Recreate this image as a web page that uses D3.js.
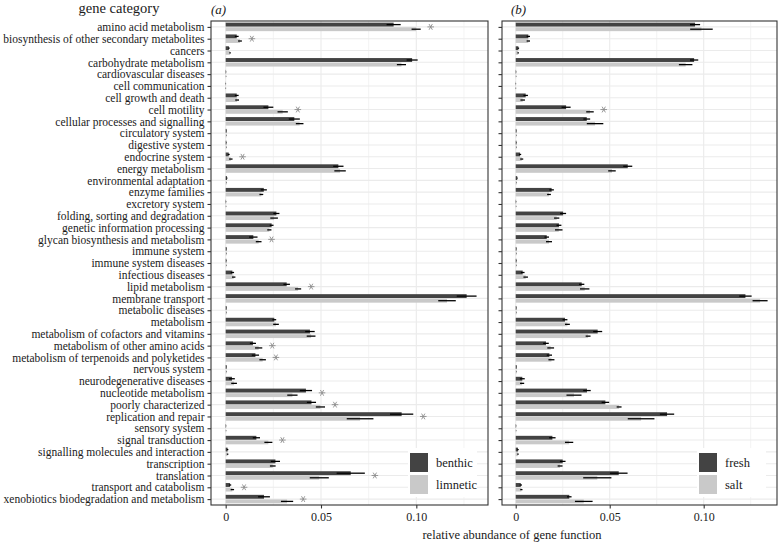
<!DOCTYPE html>
<html>
<head>
<meta charset="utf-8">
<script src="https://cdn.jsdelivr.net/npm/d3@7"></script>
<style>
  body { margin: 0; background: #fff; }
  text { font-family: "Liberation Serif", serif; fill: #1a1a1a; }
</style>
</head>
<body>
<div id="chart"></div>
<script>
const categories = [
  'amino acid metabolism', 'biosynthesis of other secondary metabolites', 'cancers',
  'carbohydrate metabolism', 'cardiovascular diseases', 'cell communication',
  'cell growth and death', 'cell motility', 'cellular processes and signalling',
  'circulatory system', 'digestive system', 'endocrine system', 'energy metabolism',
  'environmental adaptation', 'enzyme families', 'excretory system',
  'folding, sorting and degradation', 'genetic information processing',
  'glycan biosynthesis and metabolism', 'immune system', 'immune system diseases',
  'infectious diseases', 'lipid metabolism', 'membrane transport', 'metabolic diseases',
  'metabolism', 'metabolism of cofactors and vitamins', 'metabolism of other amino acids',
  'metabolism of terpenoids and polyketides', 'nervous system', 'neurodegenerative diseases',
  'nucleotide metabolism', 'poorly characterized', 'replication and repair', 'sensory system',
  'signal transduction', 'signalling molecules and interaction', 'transcription',
  'translation', 'transport and catabolism', 'xenobiotics biodegradation and metabolism'
];

// panel (a)
const benthicMean = [0.0881, 0.0058, 0.0017, 0.0978, 0.0002, 0.0001, 0.0058, 0.0224, 0.0360, 0.0005,
  0.0004, 0.0016, 0.0591, 0.0007, 0.0200, 0.0002, 0.0266, 0.0241, 0.0145, 0.0005, 0.0004,
  0.0035, 0.0320, 0.1264, 0.0005, 0.0255, 0.0442, 0.0143, 0.0156, 0.0005, 0.0033, 0.0421,
  0.0450, 0.0923, 0.0002, 0.0161, 0.0010, 0.0261, 0.0656, 0.0023, 0.0201];
const benthicSe = [0.0037, 0.0010, 0.0004, 0.0029, 0.0001, 0.0001, 0.0010, 0.0026, 0.0029, 0.0001,
  0.0001, 0.0005, 0.0027, 0.0002, 0.0016, 0.0001, 0.0016, 0.0010, 0.0022, 0.0001, 0.0001,
  0.0009, 0.0017, 0.0052, 0.0001, 0.0010, 0.0025, 0.0016, 0.0019, 0.0001, 0.0015, 0.0032,
  0.0024, 0.0061, 0.0001, 0.0019, 0.0004, 0.0024, 0.0074, 0.0006, 0.0031];
const limneticMean = [0.0999, 0.0075, 0.0023, 0.0922, 0.0002, 0.0001, 0.0060, 0.0299, 0.0388, 0.0005,
  0.0004, 0.0027, 0.0600, 0.0005, 0.0187, 0.0002, 0.0254, 0.0229, 0.0173, 0.0005, 0.0004,
  0.0042, 0.0380, 0.1161, 0.0005, 0.0264, 0.0448, 0.0173, 0.0194, 0.0005, 0.0044, 0.0350,
  0.0497, 0.0705, 0.0002, 0.0224, 0.0010, 0.0247, 0.0491, 0.0035, 0.0322];
const limneticSe = [0.0024, 0.0010, 0.0004, 0.0024, 0.0001, 0.0001, 0.0010, 0.0027, 0.0020, 0.0001,
  0.0001, 0.0009, 0.0030, 0.0001, 0.0010, 0.0001, 0.0020, 0.0011, 0.0015, 0.0001, 0.0001,
  0.0009, 0.0016, 0.0046, 0.0001, 0.0015, 0.0023, 0.0019, 0.0017, 0.0001, 0.0015, 0.0027,
  0.0024, 0.0070, 0.0001, 0.0021, 0.0004, 0.0015, 0.0050, 0.0009, 0.0032];
const starsA = ['amino acid metabolism', 'biosynthesis of other secondary metabolites', 'cell motility',
  'endocrine system', 'glycan biosynthesis and metabolism', 'lipid metabolism',
  'metabolism of other amino acids', 'metabolism of terpenoids and polyketides',
  'nucleotide metabolism', 'poorly characterized', 'replication and repair',
  'signal transduction', 'translation', 'transport and catabolism',
  'xenobiotics biodegradation and metabolism'];

// panel (b)
const freshMean = [0.0954, 0.0067, 0.0014, 0.0949, 0.0002, 0.0001, 0.0053, 0.0268, 0.0378, 0.0004,
  0.0004, 0.0023, 0.0596, 0.0008, 0.0191, 0.0002, 0.0252, 0.0230, 0.0165, 0.0004, 0.0004,
  0.0037, 0.0351, 0.1222, 0.0004, 0.0262, 0.0436, 0.0161, 0.0179, 0.0005, 0.0035, 0.0379,
  0.0477, 0.0805, 0.0002, 0.0195, 0.0012, 0.0250, 0.0548, 0.0027, 0.0285];
const freshSe = [0.0027, 0.0009, 0.0004, 0.0022, 0.0001, 0.0001, 0.0012, 0.0024, 0.0018, 0.0001,
  0.0001, 0.0006, 0.0024, 0.0002, 0.0012, 0.0001, 0.0016, 0.0013, 0.0012, 0.0001, 0.0001,
  0.0010, 0.0014, 0.0033, 0.0001, 0.0013, 0.0024, 0.0015, 0.0014, 0.0001, 0.0013, 0.0020,
  0.0020, 0.0038, 0.0001, 0.0017, 0.0004, 0.0015, 0.0047, 0.0006, 0.0012];
const saltMean = [0.0988, 0.0067, 0.0013, 0.0904, 0.0002, 0.0001, 0.0037, 0.0395, 0.0422, 0.0004,
  0.0004, 0.0032, 0.0512, 0.0005, 0.0177, 0.0002, 0.0218, 0.0229, 0.0177, 0.0004, 0.0004,
  0.0053, 0.0367, 0.1300, 0.0004, 0.0275, 0.0385, 0.0186, 0.0190, 0.0005, 0.0034, 0.0310,
  0.0550, 0.0667, 0.0002, 0.0284, 0.0012, 0.0236, 0.0434, 0.0030, 0.0362];
const saltSe = [0.0060, 0.0009, 0.0004, 0.0036, 0.0001, 0.0001, 0.0012, 0.0020, 0.0044, 0.0001,
  0.0001, 0.0008, 0.0020, 0.0001, 0.0010, 0.0001, 0.0014, 0.0020, 0.0016, 0.0001, 0.0001,
  0.0012, 0.0025, 0.0040, 0.0001, 0.0013, 0.0013, 0.0018, 0.0016, 0.0001, 0.0011, 0.0040,
  0.0013, 0.0071, 0.0001, 0.0022, 0.0004, 0.0013, 0.0075, 0.0006, 0.0047];
const starsB = ['cell motility'];

const xTicks = [0, 0.05, 0.10];
const xMinor = [0.025, 0.075, 0.125];

const width = 779;
const height = 542;
const panelTop = 21;
const panelBottom = 505;
const darkFill = '#434343';
const lightFill = '#c9c9c9';
const gridCol = '#ebebeb';

const svg = d3.select('#chart')
    .append('svg')
    .attr('width', width)
    .attr('height', height);

svg.append('rect').attr('width', width).attr('height', height).attr('fill', '#fff');

const yScale = d3.scalePoint()
    .domain(categories)
    .range([panelTop, panelBottom])
    .padding(0.5);
const step = yScale.step();
const star = d3.symbol(d3.symbolAsterisk, 30);

function Panel(opt) {
    const xScale = d3.scaleLinear().domain(opt.domain).range([opt.left, opt.right]);
    const g = svg.append('g');

    // grid
    g.selectAll('.minor').data(xMinor).enter().append('line')
        .attr('x1', d => xScale(d)).attr('x2', d => xScale(d))
        .attr('y1', panelTop).attr('y2', panelBottom)
        .attr('stroke', gridCol).attr('stroke-width', 0.6);
    g.selectAll('.major').data(xTicks).enter().append('line')
        .attr('x1', d => xScale(d)).attr('x2', d => xScale(d))
        .attr('y1', panelTop).attr('y2', panelBottom)
        .attr('stroke', gridCol).attr('stroke-width', 1.1);
    g.selectAll('.hgrid').data(categories).enter().append('line')
        .attr('x1', opt.left).attr('x2', opt.right)
        .attr('y1', d => yScale(d)).attr('y2', d => yScale(d))
        .attr('stroke', gridCol).attr('stroke-width', 1.1);

    const series = [
        {mean: opt.m1, se: opt.s1, fill: darkFill, off: -0.36},
        {mean: opt.m2, se: opt.s2, fill: lightFill, off: 0.03}
    ];
    series.forEach(s => {
        const bh = 0.33 * step;
        g.selectAll(null).data(categories).enter().append('rect')
            .attr('x', xScale(0))
            .attr('y', d => yScale(d) + s.off * step)
            .attr('width', (d, i) => xScale(s.mean[i]) - xScale(0))
            .attr('height', bh)
            .attr('fill', s.fill);
        g.selectAll(null).data(categories).enter().append('line')
            .attr('x1', (d, i) => xScale(s.mean[i] - s.se[i]))
            .attr('x2', (d, i) => xScale(s.mean[i] + s.se[i]))
            .attr('y1', d => yScale(d) + s.off * step + bh / 2)
            .attr('y2', d => yScale(d) + s.off * step + bh / 2)
            .attr('stroke', '#000').attr('stroke-width', 1.3);
    });

    // significance stars
    g.selectAll(null).data(opt.stars).enter().append('path')
        .attr('transform', d => {
            const i = categories.indexOf(d);
            const x = xScale(Math.max(opt.m1[i] + opt.s1[i], opt.m2[i] + opt.s2[i])) + 10;
            return `translate(${x},${yScale(d)}) rotate(90)`;
        })
        .attr('d', star)
        .attr('fill', 'none')
        .attr('stroke', '#8c8c8c')
        .attr('stroke-width', 0.9);

    // legend
    const lg = g.append('g').attr('transform', `translate(${opt.right - 80},448)`);
    lg.append('rect').attr('width', 69).attr('height', 49).attr('fill', '#fff');
    opt.keys.forEach((k, i) => {
        lg.append('rect').attr('x', 2).attr('y', 5 + i * 22).attr('width', 18).attr('height', 19)
            .attr('fill', i === 0 ? darkFill : lightFill);
        lg.append('text').attr('x', 28).attr('y', 18.5 + i * 22)
            .style('font-size', '12.5px').text(k);
    });

    // border
    g.append('rect')
        .attr('x', opt.left).attr('y', panelTop)
        .attr('width', opt.right - opt.left).attr('height', panelBottom - panelTop)
        .attr('fill', 'none').attr('stroke', '#333').attr('stroke-width', 1.1);

    // x axis
    const xAxis = svg.append('g')
        .attr('transform', `translate(0,${panelBottom})`)
        .call(d3.axisBottom(xScale).tickValues(xTicks).tickSize(3.5).tickPadding(4)
            .tickFormat(d => d === 0 ? '0' : d3.format('.2f')(d)));
    xAxis.select('.domain').remove();
    xAxis.selectAll('line').attr('stroke', '#333').attr('stroke-width', 1.1);
    xAxis.selectAll('text').style('font-size', '12px').style('font-family', '"Liberation Serif", serif')
        .attr('fill', '#333');

    // y ticks
    const yAxis = svg.append('g')
        .attr('transform', `translate(${opt.left},0)`)
        .call(d3.axisLeft(yScale).tickSize(3.5).tickPadding(3).tickFormat(opt.showLabels ? d => d : ''));
    yAxis.select('.domain').remove();
    yAxis.selectAll('line').attr('stroke', '#333').attr('stroke-width', 1.1);
    yAxis.selectAll('text').style('font-size', '11.5px').style('font-family', '"Liberation Serif", serif')
        .attr('fill', '#1a1a1a');

    svg.append('text').attr('x', opt.tagX).attr('y', 14)
        .style('font-size', '13px').style('font-style', 'italic').text(opt.tag);
}

Panel({left: 211, right: 488, domain: [-0.0077, 0.1376], m1: benthicMean, s1: benthicSe,
    m2: limneticMean, s2: limneticSe, stars: starsA, keys: ['benthic', 'limnetic'],
    showLabels: true, tag: '(a)', tagX: 211});
Panel({left: 502, right: 777, domain: [-0.0073, 0.139], m1: freshMean, s1: freshSe,
    m2: saltMean, s2: saltSe, stars: starsB, keys: ['fresh', 'salt'],
    showLabels: false, tag: '(b)', tagX: 511});

svg.append('text').attr('x', 119).attr('y', 13).attr('text-anchor', 'middle')
    .style('font-size', '14.5px').text('gene category');
svg.append('text').attr('x', 512).attr('y', 539).attr('text-anchor', 'middle')
    .style('font-size', '12.5px').text('relative abundance of gene function');
</script>
</body>
</html>
